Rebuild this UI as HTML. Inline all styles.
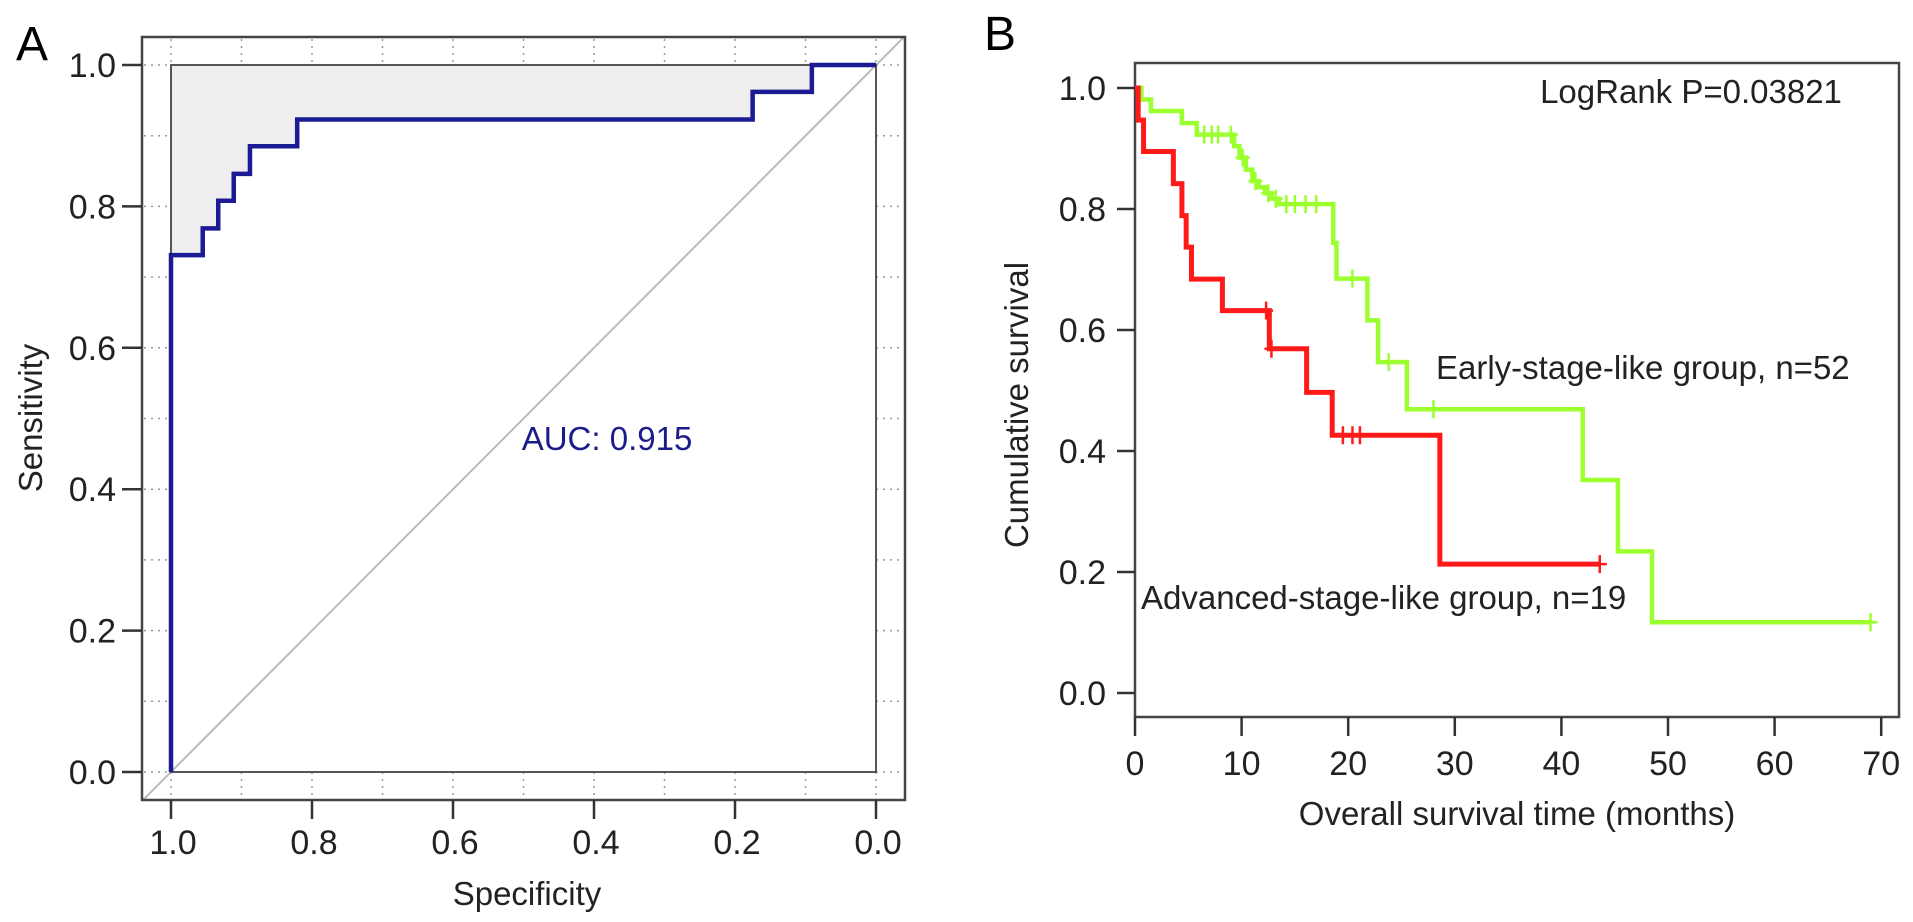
<!DOCTYPE html>
<html><head><meta charset="utf-8"><style>
html,body{margin:0;padding:0;background:#fff;width:1913px;height:922px;overflow:hidden}
svg text{font-family:"Liberation Sans",Arial,sans-serif}
</style></head><body>
<svg id="fig" width="1913" height="922" viewBox="0 0 1913 922" xmlns="http://www.w3.org/2000/svg">
<g id="panelA"></g>
<g id="panelB"></g>
</svg>
<script>
// ---- Panel A data (ROC) ----
const rocSpec = [1.0, 1.0, 0.955, 0.955, 0.933, 0.933, 0.911, 0.911, 0.888, 0.888, 0.821, 0.821, 0.175, 0.175, 0.091, 0.091, 0.0];
const rocSens = [0.0, 0.731, 0.731, 0.769, 0.769, 0.808, 0.808, 0.846, 0.846, 0.885, 0.885, 0.923, 0.923, 0.962, 0.962, 1.0, 1.0];
const rocTicks = [1.0, 0.8, 0.6, 0.4, 0.2, 0.0];
const rocTickLabels = ["1.0", "0.8", "0.6", "0.4", "0.2", "0.0"];
const aucLabel = "AUC: 0.915";

// ---- Panel B data (Kaplan-Meier) ----
const earlyTimes = [0, 0.6, 1.5, 4.4, 5.8, 9.3, 9.8, 10.4, 11.0, 11.6, 12.2, 12.8, 13.5, 18.6, 18.9, 21.8, 22.8, 25.5, 42.0, 45.3, 48.5, 69.0];
const earlySurv  = [1.0, 0.981, 0.962, 0.942, 0.923, 0.904, 0.885, 0.865, 0.846, 0.836, 0.826, 0.817, 0.808, 0.744, 0.685, 0.616, 0.547, 0.469, 0.352, 0.234, 0.117, 0.117];
const earlyCensT = [6.5, 7.2, 7.8, 9.0, 10.1, 11.3, 12.5, 13.2, 14.2, 15.0, 16.0, 17.0, 20.4, 23.8, 28.0, 69.0];
const advTimes = [0, 0.3, 0.8, 3.6, 4.4, 4.8, 5.3, 8.2, 12.6, 16.1, 18.5, 28.6, 43.6];
const advSurv  = [1.0, 0.947, 0.895, 0.842, 0.789, 0.737, 0.684, 0.632, 0.569, 0.497, 0.426, 0.213, 0.213];
const advCensT = [12.3, 12.8, 19.5, 20.4, 21.1, 43.6];
const kmXTicks = [0, 10, 20, 30, 40, 50, 60, 70];
const kmYTicks = [0, 0.2, 0.4, 0.6, 0.8, 1.0];
const kmYTickLabels = ["0.0", "0.2", "0.4", "0.6", "0.8", "1.0"];

const NS = "http://www.w3.org/2000/svg";
function mk(parent, tag, attrs, text) {
  const e = document.createElementNS(NS, tag);
  for (const k in attrs) e.setAttribute(k, attrs[k]);
  if (text !== undefined) e.textContent = text;
  parent.appendChild(e);
  return e;
}
const FS = 33;

// ================= Panel A =================
(function(){
  const g = document.getElementById('panelA');
  const xA = s => 171 + (1 - s) * 705;
  const yA = v => 772 - v * 707;
  const oL = 142, oR = 905, oT = 37, oB = 800;

  let t = mk(g, 'text', {x: 16, y: 60, 'font-size': 48}, 'A');
  
  

  let pts = [];
  for (let i = 0; i < rocSpec.length; i++) pts.push(xA(rocSpec[i]) + ',' + yA(rocSens[i]));
  pts.push(xA(0) + ',' + yA(1)); pts.push(xA(1) + ',' + yA(1));
  let poly = mk(g, 'polygon', {points: pts.join(' '), fill: '#eeeeee', stroke: 'none'});
  
  

  for (let k = 0; k <= 10; k++) {
    const v = k / 10;
    const yy = yA(v), xx = xA(v);
    let d1 = mk(g, 'line', {x1: oL + 2, x2: xA(1), y1: yy, y2: yy, stroke: '#999', 'stroke-width': 1.5, 'stroke-dasharray': '2,5'});
    
    
    let d2 = mk(g, 'line', {x1: xA(0), x2: oR - 2, y1: yy, y2: yy, stroke: '#999', 'stroke-width': 1.5, 'stroke-dasharray': '2,5'});
    
    
    let d3 = mk(g, 'line', {x1: xx, x2: xx, y1: oT + 2, y2: yA(1), stroke: '#999', 'stroke-width': 1.5, 'stroke-dasharray': '2,5'});
    
    
    let d4 = mk(g, 'line', {x1: xx, x2: xx, y1: yA(0), y2: oB - 2, stroke: '#999', 'stroke-width': 1.5, 'stroke-dasharray': '2,5'});
    
    
  }

  let diag = mk(g, 'line', {x1: xA(1) - (oB - yA(0)), y1: oB, x2: xA(0) + (yA(1) - oT), y2: oT, stroke: '#bbbbbb', 'stroke-width': 2});
  
  

  let ib = mk(g, 'rect', {x: xA(1), y: yA(1), width: xA(0) - xA(1), height: yA(0) - yA(1), fill: 'none', stroke: '#555', 'stroke-width': 2});
  
  
  let ob = mk(g, 'rect', {x: oL, y: oT, width: oR - oL, height: oB - oT, fill: 'none', stroke: '#444', 'stroke-width': 2.5});
  
  

  let d = '';
  for (let i = 0; i < rocSpec.length; i++) d += (i ? 'L' : 'M') + xA(rocSpec[i]) + ' ' + yA(rocSens[i]);
  let roc = mk(g, 'path', {d: d, fill: 'none', stroke: '#1b1b96', 'stroke-width': 4.5});
  
  

  for (let i = 0; i < rocTicks.length; i++) {
    const v = rocTicks[i];
    let tk = mk(g, 'line', {x1: oL - 20, x2: oL, y1: yA(v), y2: yA(v), stroke: '#333', 'stroke-width': 2.5});
    
    
    let tl = mk(g, 'text', {x: 116, y: yA(v) + 12, 'font-size': FS + 1, 'text-anchor': 'end', fill: '#222'}, rocTickLabels[i]);
    
    
    let tx = mk(g, 'line', {x1: xA(v), x2: xA(v), y1: oB, y2: oB + 19, stroke: '#333', 'stroke-width': 2.5});
    
    
    let txl = mk(g, 'text', {x: xA(v) + 2, y: 854, 'font-size': FS + 1, 'text-anchor': 'middle', fill: '#222'}, rocTickLabels[i]);
    
    
  }
  let xt = mk(g, 'text', {x: 527, y: 905, 'font-size': FS, 'text-anchor': 'middle', fill: '#222'}, 'Specificity');
  
  
  let yt = mk(g, 'text', {x: 0, y: 0, 'font-size': FS, 'text-anchor': 'middle', fill: '#222', transform: 'translate(42,418) rotate(-90)'}, 'Sensitivity');
  
  
  let auc = mk(g, 'text', {x: 607, y: 450, 'font-size': FS, 'text-anchor': 'middle', fill: '#1b1b8a'}, aucLabel);
  
  
})();

// ================= Panel B =================
(function(){
  const g = document.getElementById('panelB');
  const xB = t => 1135 + t * 10.66;
  const yB = v => 693 - v * 605;
  const bL = 1135, bR = 1899, bT = 63, bB = 717;

  let t = mk(g, 'text', {x: 984, y: 50, 'font-size': 48}, 'B');
  
  

  let frame = mk(g, 'rect', {x: bL, y: bT, width: bR - bL, height: bB - bT, fill: 'none', stroke: '#444', 'stroke-width': 2.5});
  
  

  for (let i = 0; i < kmYTicks.length; i++) {
    const v = kmYTicks[i];
    let tk = mk(g, 'line', {x1: bL - 18, x2: bL, y1: yB(v), y2: yB(v), stroke: '#333', 'stroke-width': 2.5});
    
    
    let tl = mk(g, 'text', {x: 1106, y: yB(v) + 12, 'font-size': FS + 1, 'text-anchor': 'end', fill: '#222'}, kmYTickLabels[i]);
    
    
  }
  for (let i = 0; i < kmXTicks.length; i++) {
    const v = kmXTicks[i];
    let tk = mk(g, 'line', {x1: xB(v), x2: xB(v), y1: bB, y2: bB + 19, stroke: '#333', 'stroke-width': 2.5});
    
    
    let tl = mk(g, 'text', {x: xB(v), y: 775, 'font-size': FS + 1, 'text-anchor': 'middle', fill: '#222'}, String(v));
    
    
  }

  function stepPath(ts, ss) {
    let d = 'M' + xB(ts[0]) + ' ' + yB(ss[0]);
    for (let i = 1; i < ts.length; i++) {
      d += 'L' + xB(ts[i]) + ' ' + yB(ss[i - 1]) + 'L' + xB(ts[i]) + ' ' + yB(ss[i]);
    }
    return d;
  }
  function survAt(ts, ss, tt) {
    let v = ss[0];
    for (let i = 0; i < ts.length; i++) if (ts[i] <= tt) v = ss[i];
    return v;
  }

  let gl = mk(g, 'path', {d: stepPath(earlyTimes, earlySurv), fill: 'none', stroke: '#9cff2e', 'stroke-width': 4.5});
  
  
  for (const c of earlyCensT) {
    const y = yB(survAt(earlyTimes, earlySurv, c)), x = xB(c);
    let m = mk(g, 'path', {d: `M${x - 7} ${y}L${x + 7} ${y}M${x} ${y - 9}L${x} ${y + 9}`, stroke: '#9cff2e', 'stroke-width': 2.5, fill: 'none'});
    
    
  }
  let rl = mk(g, 'path', {d: stepPath(advTimes, advSurv), fill: 'none', stroke: '#ff1a1a', 'stroke-width': 5});
  
  
  for (const c of advCensT) {
    const y = yB(survAt(advTimes, advSurv, c)), x = xB(c);
    let m = mk(g, 'path', {d: `M${x - 7} ${y}L${x + 7} ${y}M${x} ${y - 9}L${x} ${y + 9}`, stroke: '#ff1a1a', 'stroke-width': 2.5, fill: 'none'});
    
    
  }

  let lr = mk(g, 'text', {x: 1691, y: 103, 'font-size': FS, 'text-anchor': 'middle', fill: '#222'}, 'LogRank P=0.03821');
  
  
  let el = mk(g, 'text', {x: 1436, y: 379, 'font-size': FS, fill: '#222'}, 'Early-stage-like group, n=52');
  
  
  let al = mk(g, 'text', {x: 1141, y: 609, 'font-size': FS, fill: '#222'}, 'Advanced-stage-like group, n=19');
  
  
  let xt = mk(g, 'text', {x: 1517, y: 825, 'font-size': FS, 'text-anchor': 'middle', fill: '#222'}, 'Overall survival time (months)');
  
  
  let yt = mk(g, 'text', {x: 0, y: 0, 'font-size': FS, 'text-anchor': 'middle', fill: '#222', transform: 'translate(1028,405) rotate(-90)'}, 'Cumulative survival');
  
  
})();
</script>
</body></html>
